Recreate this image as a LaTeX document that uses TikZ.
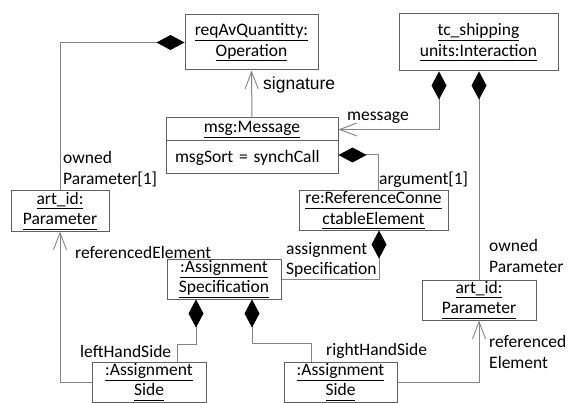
\documentclass[tikz,border=0pt]{standalone}
\usepackage{fontspec}
\setmainfont{Carlito}
\newfontfamily\arialfont{Liberation Sans}
\usetikzlibrary{arrows.meta}
% underline at a fixed depth, so every object name is underlined alike
\newcommand\unl[1]{\underline{#1\vphantom{p}}}

\begin{document}
\begin{tikzpicture}[x=1pt,y=-1pt,
  font=\fontsize{17.5}{20.5}\selectfont,
  obj/.style={draw=black!62, line width=1pt, inner sep=0pt, align=center},
  lbl/.style={inner sep=0pt, align=left, anchor=west},
  link/.style={draw=black!48, line width=1pt},
  comp/.style={link, {Diamond[length=28pt,width=15pt,color=black,fill=black]}-},
  nav/.style={link, -{Straight Barb[length=17pt,width=13pt,line width=0.9pt]}},
  compnav/.style={link, {Diamond[length=28pt,width=15pt,color=black,fill=black]}-{Straight Barb[length=17pt,width=13pt,line width=0.9pt]}}]

\useasboundingbox[fill=white] (0,0) rectangle (569,403);

% object boxes
\node[obj, minimum width=133pt, minimum height=55pt] (op) at (251.5,42.5)
  {\unl{reqAvQuantitty:}\\\unl{Operation}};
\node[obj, minimum width=159pt, minimum height=57pt] (inter) at (478.5,42.5)
  {\unl{tc\_shipping}\\\unl{units:Interaction}};
\node[obj, minimum width=172pt, minimum height=23pt] (msgname) at (252,129.5)
  {\unl{msg:Message}};
\node[obj, text width=154pt, inner xsep=9pt, minimum height=33pt, align=left] (msgattr) at (252,157.5)
  {msgSort = synchCall};
\node[obj, minimum width=98pt, minimum height=40pt] (par1) at (60,211)
  {\unl{art\_id:}\\\unl{Parameter}};
\node[obj, minimum width=149pt, minimum height=39pt] (rce) at (373.5,210.5)
  {\unl{re:ReferenceConne}\\\unl{ctableElement}};
\node[obj, minimum width=114pt, minimum height=40pt] (aspec) at (224,279)
  {\unl{:Assignment}\\\unl{Specification}};
\node[obj, minimum width=114pt, minimum height=40pt] (par2) at (479,300)
  {\unl{art\_id:}\\\unl{Parameter}};
\node[obj, minimum width=114pt, minimum height=40pt] (asideL) at (149,382)
  {\unl{:Assignment}\\\unl{Side}};
\node[obj, minimum width=113pt, minimum height=40pt] (asideR) at (340.5,382)
  {\unl{:Assignment}\\\unl{Side}};

% connectors
\draw[nav] (msgname.north) -- (op.south);
\draw[comp] (op.west) -| (par1.north);
\draw[nav] (asideL.west) -| (par1.south);
\draw[compnav] ([xshift=-39.5pt]inter.south) |- (msgname.east);
\draw[comp] (inter.south -| par2.north) -- (par2.north);
\draw[comp] ([yshift=2.5pt]msgattr.east) -| ([xshift=4.5pt]rce.north);
\draw[comp] ([xshift=5.5pt]rce.south) |- (aspec.east);
\draw[comp] ([xshift=-28pt]aspec.south) -- ++(0,45) -| ([xshift=28pt]asideL.north);
\draw[comp] ([xshift=28pt]aspec.south) -- ++(0,44) -| ([xshift=-29.5pt]asideR.north);
\draw[nav] (asideR.east) -| (par2.south);

% role names
\node[lbl, font=\arialfont\fontsize{17.5}{20}\selectfont] (lsig) at (263,85) {signature};
\node[lbl] (lmsg) at (347,118) {message};
\node[lbl] (lown1) at (63,169) {owned\\Parameter[1]};
\node[lbl] (larg) at (379,180) {argument[1]};
\node[lbl] (lref1) at (75,252) {referencedElement};
\node[lbl] (lspec) at (286,260) {assignment\\Specification};
\node[lbl] (lown2) at (489,256) {owned\\Parameter};
\node[lbl] (lref2) at (489,352) {referenced\\Element};
\node[lbl] (llhs) at (80,351) {leftHandSide};
\node[lbl] (lrhs) at (326,351) {rightHandSide};
\end{tikzpicture}
\end{document}
